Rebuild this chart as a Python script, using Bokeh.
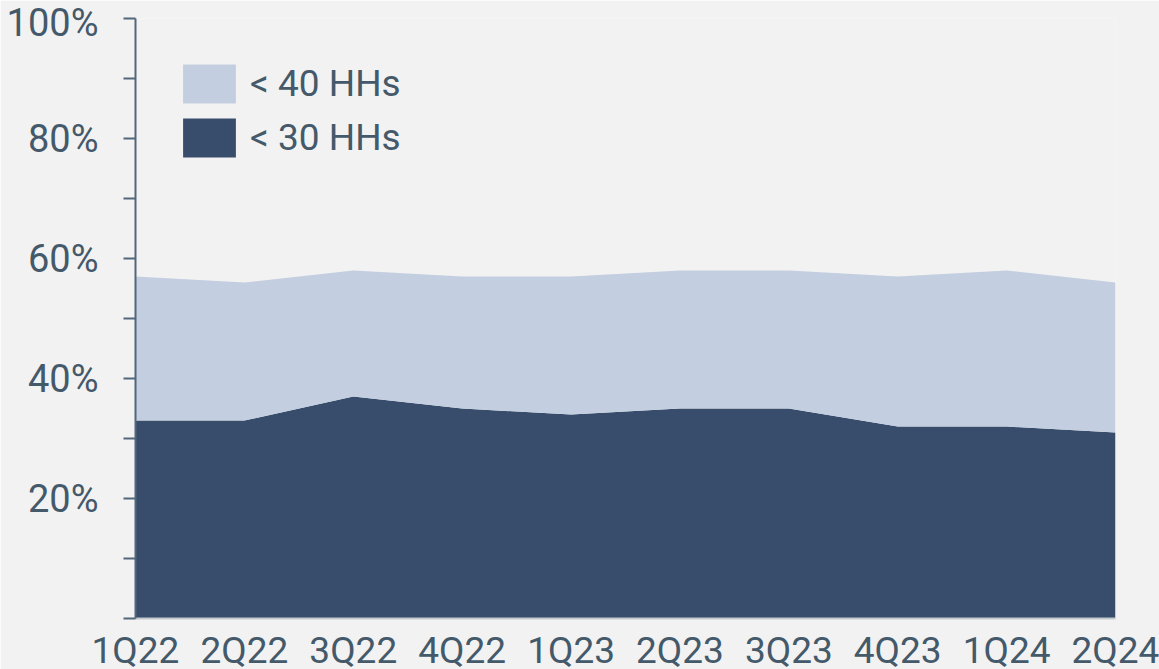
from bokeh.plotting import figure
from bokeh.models import ColumnDataSource, FixedTicker, Legend, LegendItem, Range1d
from bokeh.embed import file_html
from bokeh.resources import INLINE

quarters = ["1Q22", "2Q22", "3Q22", "4Q22", "1Q23", "2Q23", "3Q23", "4Q23", "1Q24", "2Q24"]
lt40 = [57, 56, 58, 57, 57, 58, 58, 57, 58, 56]
lt30 = [33, 33, 37, 35, 34, 35, 35, 32, 32, 31]
y_ticks = [0, 10, 20, 30, 40, 50, 60, 70, 80, 90, 100]
y_labels = {20: "20%", 40: "40%", 60: "60%", 80: "80%", 100: "100%"}

TEXT = "#44596a"
BG = "#f2f2f2"
DARK = "#384d6c"
LIGHT = "#c3cee0"

x = list(range(len(quarters)))
src = ColumnDataSource(dict(x=x, lt30=lt30, extra=[a - b for a, b in zip(lt40, lt30)]))

p = figure(width=1159, height=669, frame_width=980, frame_height=600,
           output_backend="svg", toolbar_location=None,
           x_range=Range1d(0, len(quarters) - 1), y_range=Range1d(0, 100),
           min_border_left=135, min_border_top=18, min_border_bottom=51, min_border_right=44)
p.background_fill_color = BG
p.border_fill_color = BG
p.outline_line_color = None
p.grid.visible = False

r = p.varea_stack(stackers=["lt30", "extra"], x="x", source=src, color=[DARK, LIGHT])

legend = Legend(items=[LegendItem(label="< 40 HHs", renderers=[r[1]]),
                       LegendItem(label="< 30 HHs", renderers=[r[0]])],
                location=(41, 456), orientation="vertical")
legend.glyph_width = 66
legend.glyph_height = 49
legend.spacing = 5
legend.padding = 0
legend.margin = 0
legend.label_standoff = 8
legend.label_text_font = "Roboto"
legend.label_text_font_size = "37px"
legend.label_text_color = TEXT
legend.label_height = 49
legend.background_fill_alpha = 0
legend.border_line_color = None
p.add_layout(legend)

ya = p.yaxis[0]
ya.ticker = FixedTicker(ticks=y_ticks)
ya.major_label_overrides = {t: y_labels.get(t, "") for t in y_ticks}
ya.minor_tick_line_color = None
ya.major_tick_in = 0
ya.major_tick_out = 12
ya.major_tick_line_color = "#52677a"
ya.major_tick_line_width = 2
ya.axis_line_color = "#52677a"
ya.axis_line_width = 2
ya.major_label_standoff = 25
ya.major_label_text_font = "Roboto"
ya.major_label_text_font_size = "38px"
ya.major_label_text_color = TEXT

xa = p.xaxis[0]
xa.ticker = FixedTicker(ticks=x)
xa.major_label_overrides = {i: q for i, q in enumerate(quarters)}
xa.minor_tick_line_color = None
xa.major_tick_line_color = None
xa.axis_line_color = "#c4c9ce"
xa.axis_line_width = 2
xa.major_label_standoff = 4
xa.major_label_text_font = "Roboto"
xa.major_label_text_font_size = "37px"
xa.major_label_text_color = TEXT

open("out.html", "w").write(file_html(p, INLINE))
